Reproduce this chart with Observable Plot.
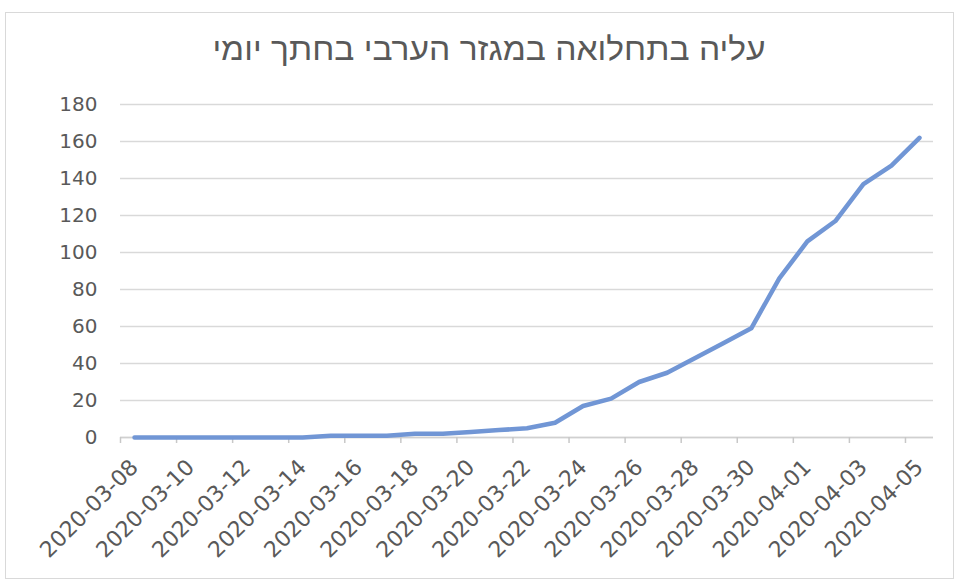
<!DOCTYPE html>
<html><head><meta charset="utf-8">
<script src="https://cdn.jsdelivr.net/npm/d3@7"></script>
<script src="https://cdn.jsdelivr.net/npm/@observablehq/plot@0.6"></script>
<style>
body{margin:0;background:#fff;}
#frame{position:absolute;left:5px;top:12px;width:949px;height:567px;border:1px solid #d9d9d9;box-sizing:border-box;}
#title{position:absolute;left:0;top:31px;width:978px;text-align:center;font-family:"Liberation Sans";font-size:32px;color:#595959;direction:rtl;white-space:nowrap;transform:scaleX(1.05);transform-origin:489px 0;}
#chart{position:absolute;left:0;top:90px;}
</style></head><body>
<div id="frame"></div>
<div id="title">עליה בתחלואה במגזר הערבי בחתך יומי</div>
<div id="chart"></div>
<script>
const dates = [
  "2020-03-08","2020-03-09","2020-03-10","2020-03-11","2020-03-12","2020-03-13","2020-03-14",
  "2020-03-15","2020-03-16","2020-03-17","2020-03-18","2020-03-19","2020-03-20","2020-03-21",
  "2020-03-22","2020-03-23","2020-03-24","2020-03-25","2020-03-26","2020-03-27","2020-03-28",
  "2020-03-29","2020-03-30","2020-03-31","2020-04-01","2020-04-02","2020-04-03","2020-04-04",
  "2020-04-05"
];
const values = [
  0, 0, 0, 0, 0, 0, 0,
  1, 1, 1, 2, 2, 3, 4,
  5, 8, 17, 21, 30, 35, 43,
  51, 59, 86, 106, 117, 137, 147,
  162
];
const yTicks = [0, 20, 40, 60, 80, 100, 120, 140, 160, 180];
const xLabels = [
  "2020-03-08","2020-03-10","2020-03-12","2020-03-14","2020-03-16","2020-03-18","2020-03-20",
  "2020-03-22","2020-03-24","2020-03-26","2020-03-28","2020-03-30","2020-04-01","2020-04-03",
  "2020-04-05"
];

const parse = d3.utcParse("%Y-%m-%d");
const fmt = d3.utcFormat("%Y-%m-%d");
const data = dates.map((d, i) => ({date: parse(d), value: values[i]}));
const half = 12 * 3600 * 1000;
const xDomain = [new Date(+parse(dates[0]) - half), new Date(+parse(dates[dates.length - 1]) + half)];
const labelDates = xLabels.map(parse);
const boundaries = labelDates.map(d => new Date(+d - half));

const chart = Plot.plot({
  width: 958,
  height: 494,
  marginLeft: 120,
  marginRight: 25,
  marginTop: 14,
  marginBottom: 147,
  style: {fontFamily: "DejaVu Sans", fontSize: "20px", color: "#595959", background: "transparent", overflow: "visible"},
  x: {type: "utc", domain: xDomain, label: null},
  y: {domain: [0, 180], label: null},
  marks: [
    Plot.gridY(yTicks, {stroke: "#d9d9d9", strokeOpacity: 1, strokeWidth: 1.5}),
    Plot.ruleY([0], {stroke: "#d0d0d0", strokeWidth: 1.5}),
    Plot.axisY(yTicks, {tickSize: 0, tickPadding: 23, fontSize: 20, fill: "#595959", label: null}),
    Plot.axisX(labelDates, {tickSize: 0, tickPadding: 26, tickRotate: -45, tickFormat: fmt, fontSize: 22, fill: "#595959", label: null}),
    Plot.axisX(boundaries, {tickSize: 6, tickFormat: () => "", stroke: "#c8c8c8", strokeWidth: 1.5, label: null}),
    Plot.line(data, {x: "date", y: "value", stroke: "#7196d5", strokeWidth: 4.5, strokeLinejoin: "round", strokeLinecap: "round"})
  ]
});
document.getElementById("chart").appendChild(chart);
</script>
</body></html>
